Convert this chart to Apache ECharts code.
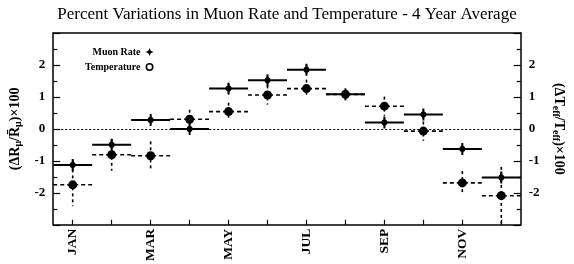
<!DOCTYPE html>
<html><head><meta charset="utf-8">
<script src="https://cdn.jsdelivr.net/npm/echarts@6/dist/echarts.min.js"></script>
<style>html,body{margin:0;padding:0;background:#fff}#c{width:574px;height:264px}</style>
</head><body><div id="c"></div>
<script>
const months = ['JAN','FEB','MAR','APR','MAY','JUN','JUL','AUG','SEP','OCT','NOV','DEC'];
const muonRate = [-1.13, -0.50, 0.28, 0.00, 1.26, 1.52, 1.85, 1.08, 0.20, 0.45, -0.63, -1.52];
const muonErr  = [0.17, 0.15, 0.12, 0.10, 0.15, 0.12, 0.15, 0.12, 0.12, 0.12, 0.12, 0.15];
const temperature = [-1.75, -0.81, -0.84, 0.30, 0.54, 1.06, 1.26, 1.08, 0.71, -0.07, -1.69, -2.09];
const tempErr  = [0.67, 0.50, 0.45, 0.30, 0.28, 0.30, 0.28, 0.12, 0.30, 0.30, 0.37, 0.90];
const yTicks = [-2, -1, 0, 1, 2];

const FONT = 'Liberation Serif';
function renderer(kind){
  return function(params, api){
    const i = api.value(0), v = api.value(1), e = api.value(2);
    const c = api.coord([i, v]);
    const w = api.size([1, 0])[0];
    const t = api.coord([i, v + e]);
    const b = api.coord([i, v - e]);
    const ch = [];
    ch.push({type:'line', shape:{x1:c[0]-w/2, y1:c[1], x2:c[0]+w/2, y2:c[1]},
      style:{stroke:'#000', lineWidth: kind==='m'?2:1.6, lineDash: kind==='m'?null:[4,3]}});
    ch.push({type:'line', shape:{x1:c[0], y1:t[1], x2:c[0], y2:b[1]},
      style:{stroke:'#000', lineWidth:1.6, lineDash:[3,3]}});
    if(kind==='m'){
      ch.push({type:'line', shape:{x1:c[0], y1:c[1]-6, x2:c[0], y2:c[1]+6}, style:{stroke:'#000', lineWidth:2}});
      ch.push({type:'circle', shape:{cx:c[0], cy:c[1], r:3}, style:{fill:'#000'}});
    } else {
      ch.push({type:'circle', shape:{cx:c[0], cy:c[1], r:4.5}, style:{fill:'#000'}});
    }
    return {type:'group', children: ch};
  };
}

const chart = echarts.init(document.getElementById('c'), null, {renderer:'canvas'});
const yCommon = {
  type:'value', min:-3, max:3, interval:1,
  axisLine:{show:true, onZero:false, lineStyle:{color:'#000', width:1.5}},
  axisTick:{show:true, inside:true, length:7, lineStyle:{color:'#000', width:1.2}},
  minorTick:{show:true, splitNumber:2, length:4, lineStyle:{color:'#000', width:1.2}},
  splitLine:{show:false},
  axisLabel:{color:'#000', fontFamily:FONT, fontWeight:'bold', fontSize:13,
    formatter: v => yTicks.indexOf(v) >= 0 ? String(v) : ''},
  nameLocation:'middle',
  nameTextStyle:{color:'#000', fontFamily:FONT, fontWeight:'bold', fontSize:14,
    rich:{s:{fontSize:10, fontFamily:FONT, fontWeight:'bold', padding:[7,0,0,0]}}}
};
chart.setOption({
  animation:false,
  title:{text:'Percent Variations in Muon Rate and Temperature - 4 Year Average', left:'center', top:1,
    textStyle:{fontFamily:FONT, fontSize:17, fontWeight:'normal', color:'#000'}},
  legend:{orient:'vertical', left:80, top:42, align:'right', itemGap:5, itemWidth:8, itemHeight:8,
    textStyle:{fontFamily:FONT, fontSize:10, fontWeight:'bold', color:'#000'},
    data:[{name:'Muon Rate', icon:'path://M0,-10L3,-3L10,0L3,3L0,10L-3,3L-10,0L-3,-3Z', itemStyle:{color:'#000'}},
          {name:'Temperature', icon:'path://M0,-10A10,10,0,1,1,0,10A10,10,0,1,1,0,-10ZM0,-6A6,6,0,1,0,0,6A6,6,0,1,0,0,-6Z', itemStyle:{color:'#000'}}]},
  grid:{left:51, right:47, top:33, bottom:36},
  xAxis:[{type:'category', data:months, boundaryGap:true, position:'bottom',
    axisLine:{onZero:false, lineStyle:{color:'#000', width:1.5}},
    axisTick:{show:true, inside:true, alignWithLabel:true, interval:0, length:5, lineStyle:{color:'#000', width:1.2}},
    axisLabel:{interval:1, rotate:90, color:'#000', fontFamily:FONT, fontWeight:'bold', fontSize:13.5, margin:4}},
    {type:'category', data:months, boundaryGap:true, position:'top',
    axisLine:{onZero:false, lineStyle:{color:'#000', width:1.5}},
    axisTick:{show:false}, axisLabel:{show:false}}],
  yAxis:[Object.assign({}, yCommon, {position:'left', name:'(ΔR{s|μ}/R̄{s|μ})×100', nameRotate:90, nameGap:27}),
         Object.assign({}, yCommon, {position:'right', name:'(ΔT{s|eff}/T{s|eff})×100', nameRotate:-90, nameGap:19})],
  series:[
    {name:'Muon Rate', type:'custom', renderItem:renderer('m'), encode:{x:0,y:1},
      data: months.map((m,i)=>[i, muonRate[i], muonErr[i]]), z:3,
      markLine:{silent:true, symbol:'none', label:{show:false},
        lineStyle:{color:'#000', type:[2,2], width:1}, data:[{yAxis:0}]}},
    {name:'Temperature', type:'custom', renderItem:renderer('t'), encode:{x:0,y:1},
      data: months.map((m,i)=>[i, temperature[i], tempErr[i]]), z:2}
  ]
});
</script></body></html>
